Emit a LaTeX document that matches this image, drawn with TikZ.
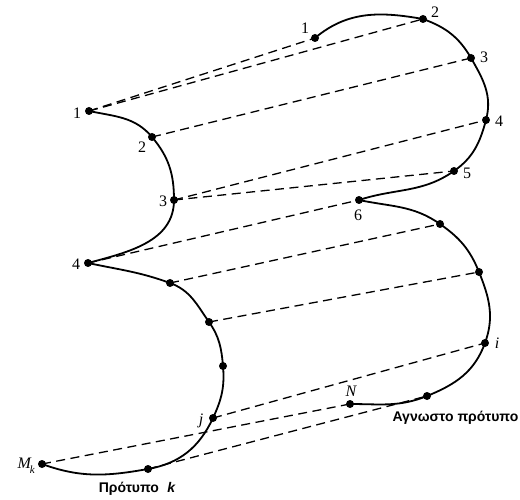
\documentclass[tikz,border=0pt]{standalone}
\usepackage{fontspec}
\setmainfont{Liberation Serif}
\newfontfamily\grfont{Liberation Sans}
\begin{document}
\begin{tikzpicture}[x=1pt,y=1pt,
  dot/.style={circle,fill=black,inner sep=0pt,minimum size=8pt},
  curve/.style={line width=1.8pt,line cap=round},
  corr/.style={line width=1.3pt,dash pattern=on 9pt off 5.5pt},
  lab/.style={font=\fontsize{16}{18}\selectfont,inner sep=0pt},
  glab/.style={font=\grfont\bfseries\fontsize{14}{16}\selectfont,inner sep=0pt}]
\useasboundingbox (0,0) rectangle (520,499);

% pattern k (left)
\node[dot] (L1) at (89,388) {};
\node[dot] (L2) at (152,362) {};
\node[dot] (L3) at (174,299) {};
\node[dot] (L4) at (88,236) {};
\node[dot] (L5) at (170,216) {};
\node[dot] (L6) at (209,177) {};
\node[dot] (L7) at (223,133) {};
\node[dot] (Lj) at (213,81) {};
\node[dot] (L9) at (148,30) {};
\node[dot] (LM) at (42,35) {};

% unknown pattern (right)
\node[dot] (R1) at (315,461) {};
\node[dot] (R2) at (423,480) {};
\node[dot] (R3) at (471,441) {};
\node[dot] (R4) at (486,379) {};
\node[dot] (R5) at (454,328) {};
\node[dot] (R6) at (359,299) {};
\node[dot] (R7) at (440,275) {};
\node[dot] (R8) at (479,227) {};
\node[dot] (Ri) at (485,156) {};
\node[dot] (R10) at (427,103) {};
\node[dot] (RN) at (350,95) {};

% curves
\draw[curve] (L1.center) to[out=-12,in=130] (L2.center)
  to[out=-50,in=90] (L3.center) to[out=-90,in=15] (L4.center);
\draw[curve] (L4.center) to[out=-12,in=160] (L5.center)
  to[out=-20,in=125] (L6.center) to[out=-55,in=95] (L7.center)
  to[out=-85,in=65] (Lj.center) to[out=-115,in=10] (L9.center)
  to[out=190,in=-20] (LM.center);

\draw[curve] (R1.center) to[out=40,in=170] (R2.center)
  to[out=-20,in=120] (R3.center) to[out=-60,in=75] (R4.center)
  to[out=-105,in=35] (R5.center) to[out=215,in=18] (R6.center);
\draw[curve] (R6.center) to[out=-12,in=145] (R7.center)
  to[out=-35,in=112] (R8.center) to[out=-68,in=70] (Ri.center)
  to[out=-110,in=22] (R10.center) to[out=202,in=0] (RN.center);

% correspondences
\draw[corr] (L1.center) -- (R1.center);
\draw[corr] (L1.center) -- (R2.center);
\draw[corr] (L2.center) -- (R3.center);
\draw[corr] (L3.center) -- (R4.center);
\draw[corr] (L3.center) -- (R5.center);
\draw[corr] (L4.center) -- (R6.center);
\draw[corr] (L5.center) -- (R7.center);
\draw[corr] (L6.center) -- (R8.center);
\draw[corr] (Lj.center) -- (Ri.center);
\draw[corr] (LM.center) -- (RN.center);
\draw[corr] (L9.center) -- (R10.center);

% labels left
\node[lab] (tL1) at (77,386) {1};
\node[lab] (tL2) at (142,352) {2};
\node[lab] (tL3) at (163,298) {3};
\node[lab] (tL4) at (76,235) {4};
\node[lab] (tLj) at (201,78) {\itshape j};
\node[lab,anchor=east] (tLM) at (35,33) {\itshape M\kern-1pt\raisebox{-5pt}{\fontsize{11}{11}\selectfont k}};
\node[glab] (tPk) at (137,10) {Πρότυπο\hspace{0.6em}\itshape k};

% labels right
\node[lab] (tR1) at (305,471) {1};
\node[lab] (tR2) at (435,487) {2};
\node[lab] (tR3) at (484,442) {3};
\node[lab] (tR4) at (499,378) {4};
\node[lab] (tR5) at (467,326) {5};
\node[lab] (tR6) at (358,284) {6};
\node[lab] (tRi) at (497,156) {\itshape i};
\node[lab] (tRN) at (351,108) {\itshape N};
\node[glab] (tAg) at (455.5,81) {Αγνωστο πρότυπο};
\end{tikzpicture}
\end{document}
